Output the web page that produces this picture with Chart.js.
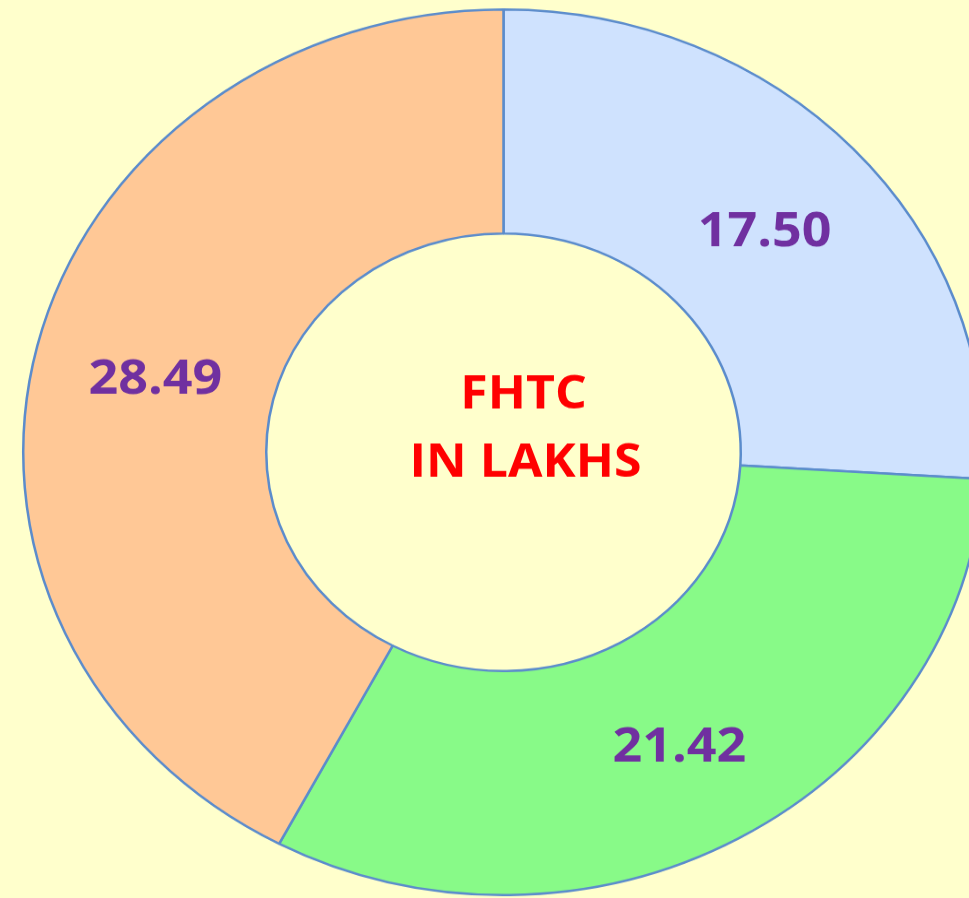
<!DOCTYPE html>
<html>
<head>
<meta charset="utf-8">
<script src="https://cdn.jsdelivr.net/npm/chart.js@4/dist/chart.umd.min.js"></script>
<style>
  html, body { margin: 0; padding: 0; background: #ffffcc; overflow: hidden; width: 969px; height: 898px; }
  #wrap { position: absolute; left: 0; top: 0; transform: scaleY(0.922); transform-origin: 0 0; }
</style>
</head>
<body>
<div id="wrap"><canvas id="fhtc-chart" width="1000" height="980"></canvas></div>
<script>
/* data */
const categories = ['Slice 1', 'Slice 2', 'Slice 3'];
const values = [17.50, 21.42, 28.49];
const sliceColors = ['#cfe2fe', '#88fa88', '#ffc896'];
const centerLines = ['FHTC', 'IN LAKHS'];

/* labels on slices + text in the hole */
const doughnutText = {
  id: 'doughnutText',
  afterDatasetsDraw(chart) {
    const ctx = chart.ctx;
    const meta = chart.getDatasetMeta(0);
    ctx.save();
    ctx.textAlign = 'center';
    ctx.textBaseline = 'middle';
    ctx.font = 'bold 52px "Open Sans"';
    ctx.fillStyle = '#7030a0';
    meta.data.forEach((arc, i) => {
      const p = arc.getCenterPoint();
      ctx.fillText(values[i].toFixed(2), p.x, p.y + 8);
    });
    const cx = meta.data[0].x, cy = meta.data[0].y;
    ctx.font = 'bold 50px "Open Sans"';
    ctx.fillStyle = '#ff0000';
    ctx.fillText(centerLines[0], cx + 20, cy - 62);
    ctx.fillText(centerLines[1], cx + 22, cy + 12);
    ctx.restore();
  }
};

new Chart(document.getElementById('fhtc-chart'), {
  type: 'doughnut',
  data: {
    labels: categories,
    datasets: [{
      data: values,
      backgroundColor: sliceColors,
      borderColor: '#5b8ccc',
      borderWidth: 2.5
    }]
  },
  options: {
    responsive: false,
    animation: false,
    devicePixelRatio: 1,
    cutout: '49.4%',
    layout: { padding: { left: 22, right: 15, top: 9, bottom: 8 } },
    plugins: {
      legend: { display: false },
      tooltip: { enabled: false }
    }
  },
  plugins: [doughnutText]
});
</script>
</body>
</html>
